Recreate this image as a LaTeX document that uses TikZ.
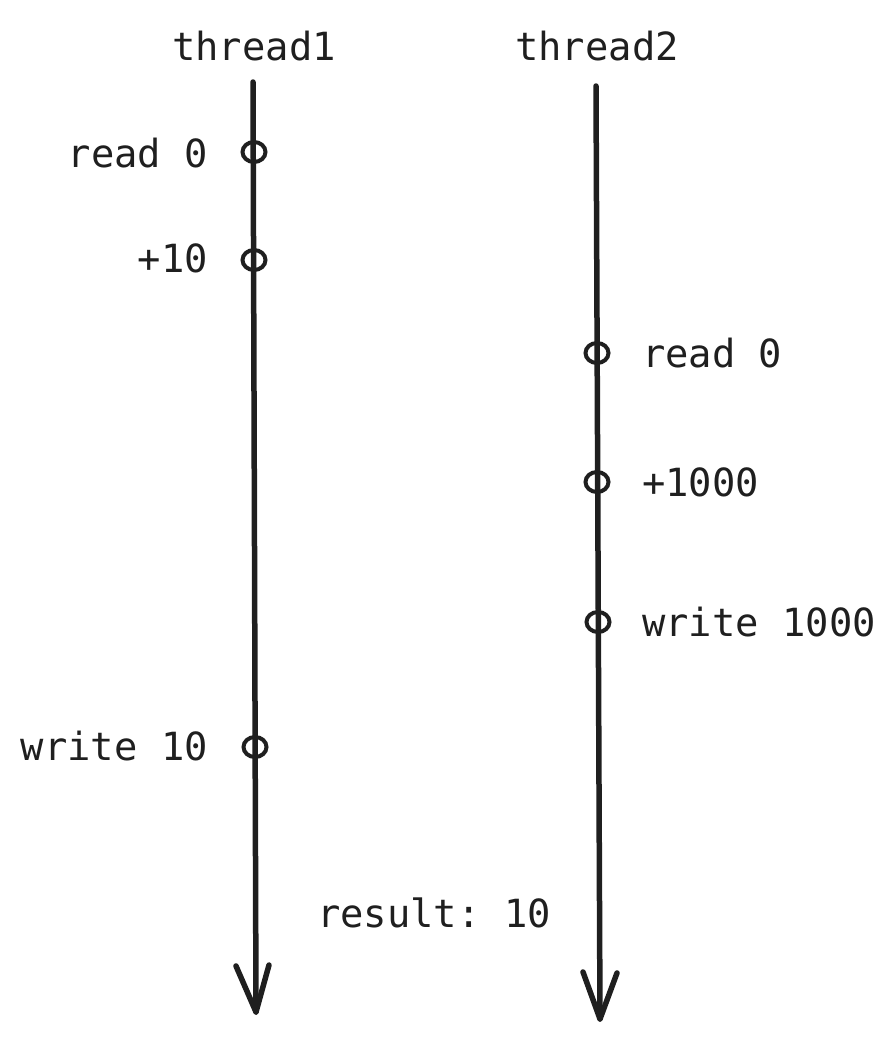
\documentclass[tikz,border=0pt]{standalone}
\usepackage{fontspec}
\usetikzlibrary{shapes.geometric}
\setmonofont{DejaVu Sans Mono}
\begin{document}
\begin{tikzpicture}[x=1pt,y=-1pt,
  lbl/.style={font=\ttfamily\fontsize{38.8}{42}\selectfont, text=black!88, inner sep=0pt},
  evt/.style={draw=black!88, line width=4pt, ellipse, minimum width=23pt, minimum height=20pt, inner sep=0pt},
  axis/.style={draw=black!88, line width=5.5pt, line cap=round, line join=round}]
\useasboundingbox (0,0) rectangle (896,1039);
% thread 1
\coordinate (t1top) at (253,82);
\coordinate (t1tip) at (256,1012);
\coordinate (t1w1) at (236,966);
\coordinate (t1w2) at (269,965);
\draw[axis] (t1top) -- (t1tip);
\draw[axis] (t1w1) -- (t1tip) -- (t1w2);
% thread 2
\coordinate (t2top) at (596,86);
\coordinate (t2tip) at (600,1019);
\coordinate (t2w1) at (583,972);
\coordinate (t2w2) at (617,973);
\draw[axis] (t2top) -- (t2tip);
\draw[axis] (t2w1) -- (t2tip) -- (t2w2);
% headers
\node[lbl, anchor=base] (h1) at (254,60) {thread1};
\node[lbl, anchor=base] (h2) at (597,60) {thread2};
% events thread 1
\node[evt] (a1) at (254,152) {};
\node[evt] (a2) at (254,260) {};
\node[evt] (a3) at (255,747) {};
\node[lbl, anchor=base east] (la1) at (208,167) {read 0};
\node[lbl, anchor=base east] (la2) at (208,272) {+10};
\node[lbl, anchor=base east] (la3) at (208,760) {write 10};
% events thread 2
\node[evt] (b1) at (597,353) {};
\node[evt] (b2) at (597,482) {};
\node[evt] (b3) at (598,622) {};
\node[lbl, anchor=base west] (lb1) at (642,367) {read 0};
\node[lbl, anchor=base west] (lb2) at (642,496) {+1000};
\node[lbl, anchor=base west] (lb3) at (642,636) {write 1000};
% result
\node[lbl, anchor=base west] (res) at (317,927) {result: 10};
\end{tikzpicture}
\end{document}
